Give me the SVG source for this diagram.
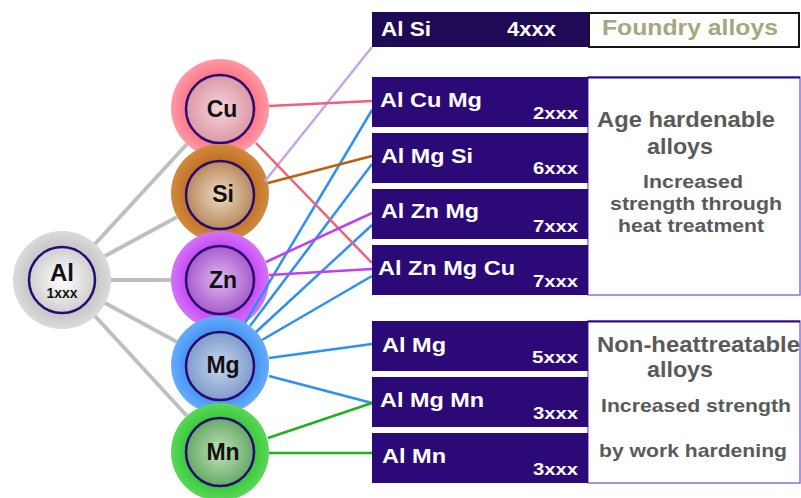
<svg xmlns="http://www.w3.org/2000/svg" width="801" height="498" viewBox="0 0 801 498">
<defs>
<style>
.gl{stroke:#bfbfbf;stroke-width:4;fill:none}
.cn{stroke-width:2.5;fill:none}
.ring{stroke:#2a0a70;stroke-width:2.5}
.el{font-family:"Liberation Sans",Arial,sans-serif;font-weight:bold;font-size:23px;fill:#111;text-anchor:middle}
.box{fill:#2b0a78}
.bl{font-family:"Liberation Sans",Arial,sans-serif;font-weight:bold;font-size:20px;fill:#fff}
.bn{font-family:"Liberation Sans",Arial,sans-serif;font-weight:bold;font-size:17px;fill:#fff;text-anchor:end}
.pan{fill:#fff;stroke:#8c70d8;stroke-width:1.5}
.pt{font-family:"Liberation Sans",Arial,sans-serif;font-weight:bold;fill:#5a5a5a}
</style>
<radialGradient id="oAl"><stop offset="0.6" stop-color="#c2c2c2"/><stop offset="1" stop-color="#dadada"/></radialGradient>
<radialGradient id="iAl"><stop offset="0" stop-color="#ffffff"/><stop offset="1" stop-color="#cfcfcf"/></radialGradient>
<radialGradient id="oCu"><stop offset="0.6" stop-color="#ff6c7e"/><stop offset="1" stop-color="#ff9aa6"/></radialGradient>
<radialGradient id="iCu"><stop offset="0" stop-color="#f6d4da"/><stop offset="1" stop-color="#dc98a6"/></radialGradient>
<radialGradient id="oSi"><stop offset="0.6" stop-color="#bf6a1c"/><stop offset="1" stop-color="#d08a40"/></radialGradient>
<radialGradient id="iSi"><stop offset="0" stop-color="#efdcc6"/><stop offset="1" stop-color="#b8895c"/></radialGradient>
<radialGradient id="oZn"><stop offset="0.6" stop-color="#c23cf2"/><stop offset="1" stop-color="#d474f8"/></radialGradient>
<radialGradient id="iZn"><stop offset="0" stop-color="#dfb8f2"/><stop offset="1" stop-color="#a85ccc"/></radialGradient>
<radialGradient id="oMg"><stop offset="0.6" stop-color="#3a8cf2"/><stop offset="1" stop-color="#66acfa"/></radialGradient>
<radialGradient id="iMg"><stop offset="0" stop-color="#c8d6ee"/><stop offset="1" stop-color="#7e9ccc"/></radialGradient>
<radialGradient id="oMn"><stop offset="0.6" stop-color="#2ec42e"/><stop offset="1" stop-color="#5ad85a"/></radialGradient>
<radialGradient id="iMn"><stop offset="0" stop-color="#c0e2b8"/><stop offset="1" stop-color="#66aa66"/></radialGradient>
</defs>
<rect width="801" height="498" fill="#fff"/>

<g id="node-Al">
<circle cx="62" cy="280" r="49" fill="url(#oAl)"/>
<circle cx="62" cy="280" r="33" fill="url(#iAl)" class="ring"/>
<text x="62" y="281" class="el" style="font-size:24px">Al</text>
<text x="62" y="298" class="el" style="font-size:14px">1xxx</text>
</g>
<g id="node-Cu">
<circle cx="220" cy="108" r="49" fill="url(#oCu)"/>
<circle cx="220" cy="109" r="34" fill="url(#iCu)" class="ring"/>
<text x="222" y="117" class="el">Cu</text>
</g>
<g id="node-Si">
<circle cx="220" cy="193" r="49" fill="url(#oSi)"/>
<circle cx="220" cy="195" r="34" fill="url(#iSi)" class="ring"/>
<text x="223" y="202" class="el">Si</text>
</g>
<g id="node-Zn">
<circle cx="220" cy="280" r="49" fill="url(#oZn)"/>
<circle cx="220" cy="280" r="34" fill="url(#iZn)" class="ring"/>
<text x="223" y="288" class="el">Zn</text>
</g>
<g id="node-Mg">
<circle cx="220" cy="365" r="49" fill="url(#oMg)"/>
<circle cx="220" cy="366" r="34" fill="url(#iMg)" class="ring"/>
<text x="223" y="373" class="el">Mg</text>
</g>
<g id="node-Mn">
<circle cx="220" cy="452" r="49" fill="url(#oMn)"/>
<circle cx="220" cy="452" r="34" fill="url(#iMn)" class="ring"/>
<text x="223" y="460" class="el">Mn</text>
</g>

<g id="connectors">
<line class="gl" x1="95" y1="244" x2="187" y2="144"/>
<line class="gl" x1="105" y1="256" x2="177" y2="217"/>
<line class="gl" x1="111" y1="280" x2="171" y2="280"/>
<line class="gl" x1="105" y1="303" x2="177" y2="342"/>
<line class="gl" x1="95" y1="316" x2="187" y2="416"/>
<line class="cn" stroke="#c8a4e2" x1="265" y1="181" x2="372" y2="47"/>
<line class="cn" stroke="#2e90f0" x1="245" y1="323" x2="372" y2="110"/>
<line class="cn" stroke="#2e90f0" x1="250" y1="326" x2="372" y2="164"/>
<line class="cn" stroke="#2e90f0" x1="256" y1="332" x2="372" y2="225"/>
<line class="cn" stroke="#2e90f0" x1="262" y1="340" x2="372" y2="276"/>
<line class="cn" stroke="#2e90f0" x1="269" y1="358" x2="372" y2="344"/>
<line class="cn" stroke="#2e90f0" x1="269" y1="376" x2="372" y2="403"/>
<line class="cn" stroke="#f0607a" x1="269" y1="106" x2="372" y2="101"/>
<line class="cn" stroke="#f0607a" x1="256" y1="143" x2="372" y2="263"/>
<line class="cn" stroke="#b8620e" x1="268" y1="183" x2="372" y2="156"/>
<line class="cn" stroke="#c040f0" x1="266" y1="262" x2="372" y2="213"/>
<line class="cn" stroke="#c040f0" x1="269" y1="275" x2="372" y2="269"/>
<line class="cn" stroke="#20b020" x1="268" y1="438" x2="372" y2="403"/>
<line class="cn" stroke="#20b020" x1="269" y1="453" x2="372" y2="453"/>
</g>

<g id="group-foundry">
<rect x="372" y="12" width="216" height="35" fill="#1f0a55"/>
<text x="381" y="36" class="bl" textLength="50" lengthAdjust="spacingAndGlyphs">Al Si</text>
<text x="507" y="36" class="bl" textLength="49" lengthAdjust="spacingAndGlyphs">4xxx</text>
<rect x="589" y="13" width="210" height="34" fill="#fff" stroke="#151515" stroke-width="2"/>
<text x="602" y="35" class="pt" style="font-size:22px;fill:#a8a67c" textLength="176" lengthAdjust="spacingAndGlyphs">Foundry alloys</text>
</g>

<g id="group-age">
<rect x="588" y="77" width="212" height="218" class="pan"/>
<line x1="588" y1="77.5" x2="800" y2="77.5" stroke="#2b0a78" stroke-width="2"/>
<text x="597" y="127" class="pt" style="font-size:22px" textLength="178" lengthAdjust="spacingAndGlyphs">Age hardenable</text>
<text x="647" y="154" class="pt" style="font-size:22px" textLength="66" lengthAdjust="spacingAndGlyphs">alloys</text>
<text x="643" y="188" class="pt" style="font-size:18px" textLength="100" lengthAdjust="spacingAndGlyphs">Increased</text>
<text x="610" y="210" class="pt" style="font-size:18px" textLength="172" lengthAdjust="spacingAndGlyphs">strength through</text>
<text x="618" y="232" class="pt" style="font-size:18px" textLength="146" lengthAdjust="spacingAndGlyphs">heat treatment</text>
</g>
<g id="node-AlCuMg">
<rect x="372" y="77" width="216" height="50" class="box"/>
<text x="380" y="107" class="bl" textLength="102" lengthAdjust="spacingAndGlyphs">Al Cu Mg</text>
<text x="578" y="119" class="bn" textLength="45" lengthAdjust="spacingAndGlyphs">2xxx</text>
</g>
<g id="node-AlMgSi">
<rect x="372" y="133" width="216" height="50" class="box"/>
<text x="381" y="163" class="bl" textLength="92" lengthAdjust="spacingAndGlyphs">Al Mg Si</text>
<text x="578" y="174" class="bn" textLength="45" lengthAdjust="spacingAndGlyphs">6xxx</text>
</g>
<g id="node-AlZnMg">
<rect x="372" y="189" width="216" height="50" class="box"/>
<text x="381" y="218" class="bl" textLength="98" lengthAdjust="spacingAndGlyphs">Al Zn Mg</text>
<text x="578" y="232" class="bn" textLength="45" lengthAdjust="spacingAndGlyphs">7xxx</text>
</g>
<g id="node-AlZnMgCu">
<rect x="372" y="245" width="216" height="50" class="box"/>
<text x="378" y="275" class="bl" textLength="137" lengthAdjust="spacingAndGlyphs">Al Zn Mg Cu</text>
<text x="578" y="287" class="bn" textLength="45" lengthAdjust="spacingAndGlyphs">7xxx</text>
</g>

<g id="group-nonheat">
<rect x="588" y="321" width="212" height="162" class="pan"/>
<line x1="588" y1="321.5" x2="800" y2="321.5" stroke="#2b0a78" stroke-width="2"/>
<text x="597" y="352" class="pt" style="font-size:22px" textLength="203" lengthAdjust="spacingAndGlyphs">Non-heattreatable</text>
<text x="647" y="377" class="pt" style="font-size:22px" textLength="66" lengthAdjust="spacingAndGlyphs">alloys</text>
<text x="601" y="412" class="pt" style="font-size:19px" textLength="190" lengthAdjust="spacingAndGlyphs">Increased strength</text>
<text x="599" y="457" class="pt" style="font-size:19px" textLength="188" lengthAdjust="spacingAndGlyphs">by work hardening</text>
</g>
<g id="node-AlMg">
<rect x="372" y="321" width="216" height="50" class="box"/>
<text x="382" y="352" class="bl" textLength="64" lengthAdjust="spacingAndGlyphs">Al Mg</text>
<text x="578" y="363" class="bn" textLength="46" lengthAdjust="spacingAndGlyphs">5xxx</text>
</g>
<g id="node-AlMgMn">
<rect x="372" y="377" width="216" height="50" class="box"/>
<text x="380" y="407" class="bl" textLength="104" lengthAdjust="spacingAndGlyphs">Al Mg Mn</text>
<text x="578" y="419" class="bn" textLength="45" lengthAdjust="spacingAndGlyphs">3xxx</text>
</g>
<g id="node-AlMn">
<rect x="372" y="433" width="216" height="50" class="box"/>
<text x="382" y="463" class="bl" textLength="64" lengthAdjust="spacingAndGlyphs">Al Mn</text>
<text x="578" y="475" class="bn" textLength="45" lengthAdjust="spacingAndGlyphs">3xxx</text>
</g>
</svg>
